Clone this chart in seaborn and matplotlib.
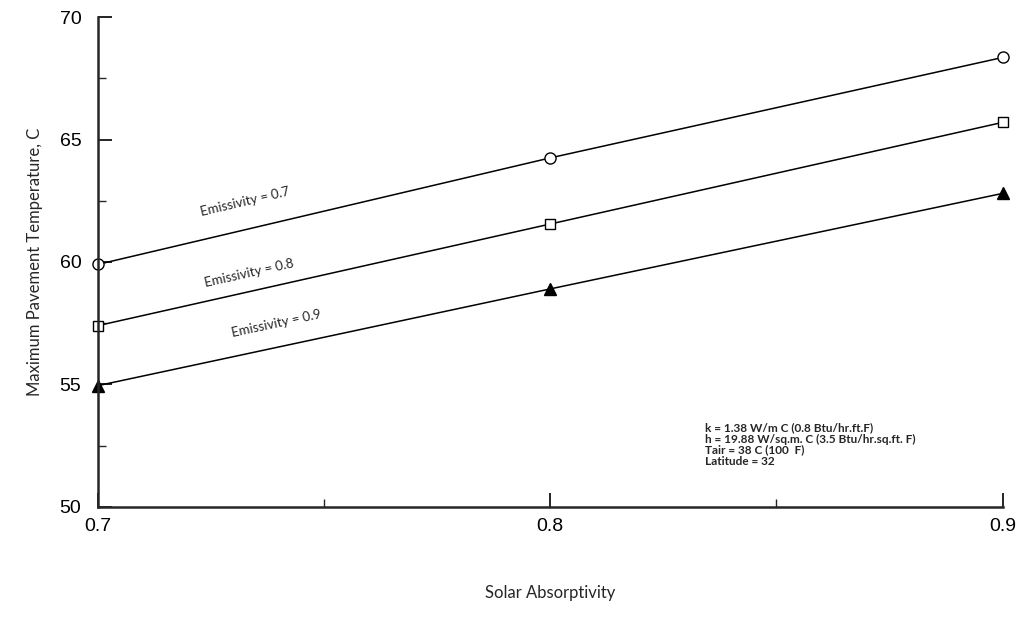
import numpy as np
import pandas as pd
import matplotlib
matplotlib.use("Agg")
import matplotlib.pyplot as plt
import seaborn as sns

# values
absorptivity = [0.7, 0.8, 0.9]
temp_e07 = [59.9, 64.25, 68.35]
temp_e08 = [57.4, 61.55, 65.7]
temp_e09 = [54.95, 58.9, 62.8]
series_names = ["Emissivity = 0.7", "Emissivity = 0.8", "Emissivity = 0.9"]
note_lines = [
    "k = 1.38 W/m C (0.8 Btu/hr.ft.F)",
    "h = 19.88 W/sq.m. C (3.5 Btu/hr.sq.ft. F)",
    "Tair = 38 C (100  F)",
    "Latitude = 32",
]

sns.set_style("ticks")
plt.rcParams["font.family"] = ["Liberation Sans", "DejaVu Sans"]

fig = plt.figure(figsize=(10.2, 6.32), dpi=100)
ax = fig.add_axes([0.096, 0.198, 0.887, 0.775])
ax.set_xlim(0.7, 0.9)
ax.set_ylim(50, 70)

styles = [
    dict(marker="o", mfc="white", ms=8),
    dict(marker="s", mfc="white", ms=7.5),
    dict(marker="^", mfc="black", ms=8.5),
]
all_temps = [temp_e07, temp_e08, temp_e09]
label_offsets = [20, 13, 17]  # points above the line
label_x = [0.7325, 0.7335, 0.7395]

for name, temps, st, off, xl in zip(series_names, all_temps, styles,
                                    label_offsets, label_x):
    df = pd.DataFrame({"alpha": absorptivity, "temp": temps})
    sns.lineplot(data=df, x="alpha", y="temp", ax=ax, color="black",
                 linewidth=1.1, mec="black", mew=1.0, clip_on=False, **st)
    # label along the line, angle measured on screen
    yl = np.interp(xl, absorptivity, temps)
    p0 = ax.transData.transform((absorptivity[0], temps[0]))
    p1 = ax.transData.transform((absorptivity[1], temps[1]))
    angle = np.degrees(np.arctan2(p1[1] - p0[1], p1[0] - p0[0]))
    ax.annotate(name, xy=(xl, yl), xytext=(0, off), textcoords="offset points",
                ha="center", va="center", fontsize=9.5, family="Lato",
                rotation=angle, rotation_mode="anchor")

ax.text(0.671, 0.172, "\n".join(note_lines), transform=ax.transAxes,
        ha="left", va="top", fontsize=8.5, family="Lato", fontweight="bold",
        linespacing=1.0)

ax.set_xticks([0.7, 0.8, 0.9])
ax.set_xticklabels(["0.7", "0.8", "0.9"])
ax.set_xticks([0.75, 0.85], minor=True)
ax.set_yticks([50, 55, 60, 65, 70])
ax.set_yticks([52.5, 57.5, 62.5, 67.5], minor=True)
ax.tick_params(axis="both", which="major", direction="in", length=10,
               width=1.2, labelsize=14, colors="black")
ax.tick_params(axis="both", which="minor", direction="in", length=6, width=1.0)
ax.tick_params(axis="y", which="major", pad=12)
ax.tick_params(axis="x", which="major", pad=8)

ax.set_xlabel("Solar Absorptivity", fontsize=12, family="Lato", labelpad=36)
ax.set_ylabel("Maximum Pavement Temperature, C", fontsize=12, family="Lato",
              labelpad=12)

sns.despine(ax=ax)
for s in ("left", "bottom"):
    ax.spines[s].set_linewidth(1.8)

fig.savefig("out.png", dpi=100, facecolor="white")
